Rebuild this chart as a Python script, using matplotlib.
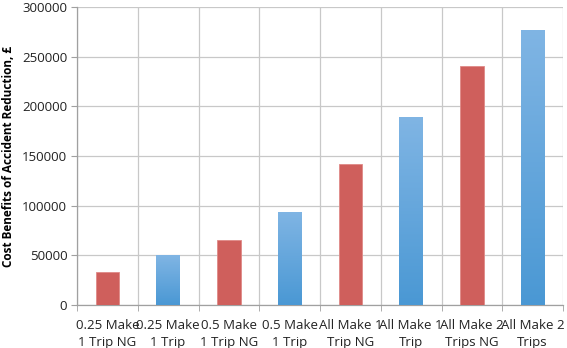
import numpy as np
from matplotlib import pyplot as plt
from matplotlib.colors import LinearSegmentedColormap

labels = ["0.25 Make\n1 Trip NG", "0.25 Make\n1 Trip", "0.5 Make\n1 Trip NG", "0.5 Make\n1 Trip",
          "All Make 1\nTrip NG", "All Make 1\nTrip", "All Make 2\nTrips NG", "All Make 2\nTrips"]
values = [33500, 50000, 65500, 94000, 142000, 189000, 241000, 277000]
is_ng = [True, False, True, False, True, False, True, False]

plt.rcParams['font.family'] = ['Open Sans', 'DejaVu Sans']

fig = plt.figure(figsize=(5.67, 3.48), dpi=100)
ax = fig.add_axes([77/567, 1-305/348, (563-77)/567, (305-7)/348])

x = np.arange(len(values))
bars = ax.bar(x, values, width=0.39, zorder=3)

blue_cmap = LinearSegmentedColormap.from_list("blue_grad", ["#4a98d4", "#80b5e4"])
grad = np.linspace(0, 1, 256).reshape(-1, 1)
for bar, ng in zip(bars, is_ng):
    if ng:
        bar.set_facecolor("#cf5f5c")
        bar.set_edgecolor("#e08a87")
        bar.set_linewidth(0.6)
    else:
        bar.set_facecolor("none")
        bar.set_edgecolor("none")
        x0, w, h = bar.get_x(), bar.get_width(), bar.get_height()
        im = ax.imshow(grad, extent=(x0, x0 + w, 0, h), origin="lower", cmap=blue_cmap,
                       aspect="auto", zorder=3)
        im.set_clip_path(bar)

ax.set_xlim(-0.5, len(values) - 0.5)
ax.set_ylim(0, 300000)
ax.set_yticks(np.arange(0, 300001, 50000))
ax.set_yticklabels([str(v) for v in range(0, 300001, 50000)])
ax.set_xticks(x)
ax.set_xticklabels(labels, linespacing=1.45)
ax.set_xticks(np.arange(-0.5, len(values)), minor=True)

ax.grid(axis="y", color="#c8c8c8", linewidth=0.9, zorder=0)
ax.grid(axis="x", which="minor", color="#c8c8c8", linewidth=0.9, zorder=0)
ax.set_axisbelow(True)

for s in ["top", "right"]:
    ax.spines[s].set_visible(False)
ax.spines["left"].set_color("#a0a0a0")
ax.spines["bottom"].set_color("#a0a0a0")
ax.spines["left"].set_linewidth(0.9)
ax.spines["bottom"].set_linewidth(0.9)

ax.tick_params(axis="x", which="major", length=0, labelsize=9.5, pad=10, colors="#222222")
ax.tick_params(axis="x", which="minor", length=4, color="#a0a0a0")
ax.tick_params(axis="y", length=4, color="#a0a0a0", labelsize=9.5, pad=3, colors="#222222")

ax.set_ylabel("Cost Benefits of Accident Reduction, £", fontsize=8.5, fontweight="bold", labelpad=5)

plt.savefig("out.png", dpi=100)
